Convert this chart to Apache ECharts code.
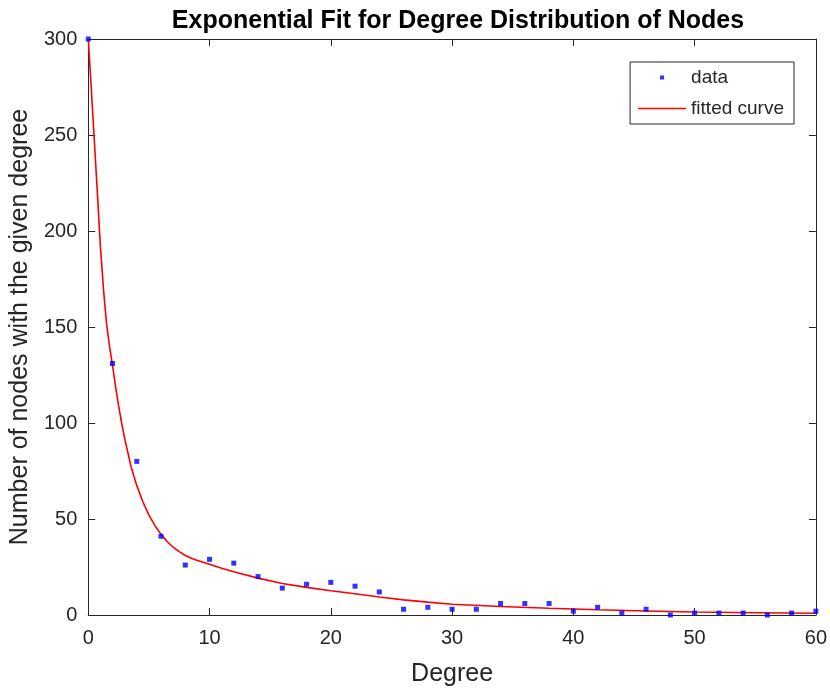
<!DOCTYPE html>
<html>
<head>
<meta charset="utf-8">
<script src="https://cdn.jsdelivr.net/npm/echarts@6/dist/echarts.min.js"></script>
<style>
  html, body { margin: 0; padding: 0; background: #fff; }
  #main { width: 830px; height: 693px; }
</style>
</head>
<body>
<div id="main"></div>
<script>
// degree distribution
var degrees = [0, 2, 4, 6, 8, 10, 12, 14, 16, 18, 20, 22, 24, 26, 28, 30,
  32, 34, 36, 38, 40, 42, 44, 46, 48, 50, 52, 54, 56, 58, 60];
var counts = [300, 131, 80, 41, 26, 29, 27, 20, 14, 16, 17, 15, 12, 3, 4, 3,
  3, 6, 6, 6, 2, 4, 1, 3, 0, 1, 1, 1, 0, 1, 2];

// fitted curve
var fitX = [0, 0.25, 0.5, 0.75, 1, 1.25, 1.5, 1.75, 2, 2.25, 2.5, 2.75, 3, 3.25, 3.5,
  3.75, 4, 4.5, 5, 5.5, 6, 6.5, 7, 7.5, 8, 8.5, 9, 10, 11, 12, 14, 16, 18, 20, 22, 24, 26,
  28, 30, 34, 38, 42, 46, 50, 55, 60];
var fitY = [300, 274, 247, 220, 192, 170, 152, 140, 130, 119, 109, 100, 92, 85, 78,
  72.5, 67.5, 59, 52, 46.5, 42, 38.3, 35.3, 33, 31, 29.6, 28.4, 26.4, 24.3, 22.5, 19.2,
  16.4, 14.4, 12.6, 11.1, 9.4, 7.9, 6.7, 5.6, 4.4, 3.5, 2.7, 2.1, 1.6, 1.2, 0.9];

var font = "Liberation Sans";
var axisColor = "#262626";

var chart = echarts.init(document.getElementById("main"));

function zip(a, b) {
  return a.map(function (v, i) { return [v, b[i]]; });
}

var tickInside = { show: true, inside: true, length: 7, lineStyle: { color: axisColor } };
var lineStyle = { show: true, onZero: false, lineStyle: { color: axisColor, width: 1 } };

var option = {
  animation: false,
  backgroundColor: "#fff",
  title: {
    text: "Exponential Fit for Degree Distribution of Nodes",
    left: 453,
    top: 4,
    textAlign: "center",
    textStyle: { fontFamily: font, fontSize: 25, fontWeight: "bold", color: "#000" }
  },
  legend: {
    orient: "vertical",
    right: 36,
    top: 62,
    padding: [6, 10, 6, 8],
    itemGap: 12,
    itemWidth: 48,
    itemHeight: 12,
    backgroundColor: "#fff",
    borderColor: axisColor,
    borderWidth: 1,
    borderRadius: 0,
    textStyle: { fontFamily: font, fontSize: 19, color: axisColor },
    data: [
      { name: "data", icon: "path://M0,0M48,12M22,4h4v4h-4z" },
      { name: "fitted curve", icon: "path://M0,0M48,12M0,5.3h48v1.4h-48z" }
    ]
  },
  grid: { left: 88, right: 12, top: 39, bottom: 78 },
  xAxis: [
    {
      type: "value", min: 0, max: 60, interval: 10,
      name: "Degree", nameLocation: "middle", nameGap: 47,
      nameTextStyle: { fontFamily: font, fontSize: 25, color: axisColor },
      axisLine: lineStyle, axisTick: tickInside,
      axisLabel: { fontFamily: font, fontSize: 20, color: axisColor, margin: 13 },
      splitLine: { show: false }
    },
    {
      type: "value", position: "top", min: 0, max: 60, interval: 10,
      axisLine: lineStyle, axisTick: tickInside,
      axisLabel: { show: false }, splitLine: { show: false }
    }
  ],
  yAxis: [
    {
      type: "value", min: 0, max: 300, interval: 50,
      name: "Number of nodes with the given degree", nameLocation: "middle", nameGap: 53,
      nameTextStyle: { fontFamily: font, fontSize: 25, color: axisColor },
      axisLine: lineStyle, axisTick: tickInside,
      axisLabel: { fontFamily: font, fontSize: 20, color: axisColor, margin: 11 },
      splitLine: { show: false }
    },
    {
      type: "value", position: "right", min: 0, max: 300, interval: 50,
      axisLine: lineStyle, axisTick: tickInside,
      axisLabel: { show: false }, splitLine: { show: false }
    }
  ],
  series: [
    {
      name: "fitted curve",
      type: "line",
      data: zip(fitX, fitY),
      smooth: false,
      symbol: "none",
      clip: true,
      lineStyle: { color: "#ff0000", width: 1.6 },
      itemStyle: { color: "#ff0000" },
      z: 2
    },
    {
      name: "data",
      type: "scatter",
      data: zip(degrees, counts),
      symbol: "rect",
      symbolSize: 5,
      clip: false,
      itemStyle: { color: "#0000ff" },
      z: 3
    }
  ]
};

chart.setOption(option);
</script>
</body>
</html>
